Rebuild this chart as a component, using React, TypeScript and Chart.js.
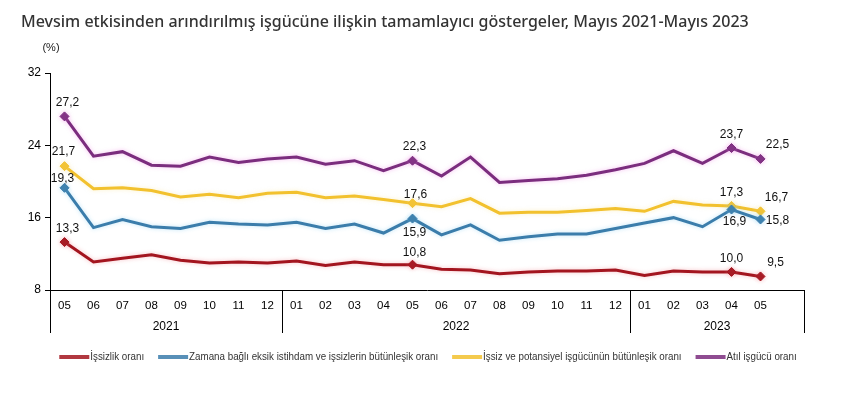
import React, { useEffect, useRef } from "react";
import { Chart, registerables } from "chart.js";

Chart.register(...registerables);

const TITLE =
  "Mevsim etkisinden arındırılmış işgücüne ilişkin tamamlayıcı göstergeler, Mayıs 2021-Mayıs 2023";
const UNIT = "(%)";

const monthLabels = [
  "05", "06", "07", "08", "09", "10", "11", "12",
  "01", "02", "03", "04", "05", "06", "07", "08", "09", "10", "11", "12",
  "01", "02", "03", "04", "05", "",
];
const yearLabels = ["2021", "2022", "2023"];
const yearStartIndex = [0, 8, 20];

const yMin = 8;
const yMax = 32;
const yStep = 8;

const seriesNames = [
  "İşsizlik oranı",
  "Zamana bağlı eksik istihdam ve işsizlerin bütünleşik oranı",
  "İşsiz ve potansiyel işgücünün bütünleşik oranı",
  "Atıl işgücü oranı",
];

const issizlik = [13.3, 11.1, 11.5, 11.9, 11.3, 11.0, 11.1, 11.0, 11.2, 10.7, 11.1, 10.8, 10.8, 10.3, 10.2, 9.8, 10.0, 10.1, 10.1, 10.2, 9.6, 10.1, 10.0, 10.0, 9.5];
const zamana = [19.3, 14.9, 15.8, 15.0, 14.8, 15.5, 15.3, 15.2, 15.5, 14.8, 15.3, 14.3, 15.9, 14.1, 15.2, 13.5, 13.9, 14.2, 14.2, 14.8, 15.4, 16.0, 15.0, 16.9, 15.8];
const potansiyel = [21.7, 19.2, 19.3, 19.0, 18.3, 18.6, 18.2, 18.7, 18.8, 18.2, 18.4, 18.0, 17.6, 17.2, 18.1, 16.5, 16.6, 16.6, 16.8, 17.0, 16.7, 17.8, 17.4, 17.3, 16.7];
const atil = [27.2, 22.8, 23.3, 21.8, 21.7, 22.7, 22.1, 22.5, 22.7, 21.9, 22.3, 21.2, 22.3, 20.6, 22.7, 19.9, 20.1, 20.3, 20.7, 21.3, 22.0, 23.4, 22.0, 23.7, 22.5];

const labeledIndices = [0, 12, 23, 24];

// style
const colors = ["#a3151f", "#3b7dab", "#f2c12e", "#7b2d7e"];
const glows = ["rgba(240,120,130,0.45)", "rgba(120,200,240,0.45)", "rgba(250,230,150,0.5)", "rgba(240,130,230,0.5)"];
// label offsets [dataset][labeledIndex] => [dx, dy]
const labelOffsets: number[][][] = [
  [[3, -13], [2, -12], [0, -13], [15, -14]],
  [[-2, -9], [2, 14], [3, 12], [17, 1]],
  [[-1, -14], [3, -9], [0, -13], [16, -14]],
  [[3, -14], [2, -14], [0, -13], [17, -14]],
];

const BASE_FONT = "'Liberation Sans', Arial, sans-serif";
const NARROW_FONT = "'Liberation Sans Narrow', 'Arial Narrow', 'Liberation Sans', Arial, sans-serif";

const fmt = (v: number) => v.toFixed(1).replace(".", ",");

const overlayPlugin = {
  id: "overlay",
  beforeDatasetDraw(chart: any, args: any) {
    const ctx = chart.ctx;
    ctx.save();
    ctx.shadowColor = glows[args.index];
    ctx.shadowBlur = 4;
  },
  afterDatasetDraw(chart: any) {
    chart.ctx.restore();
  },
  afterDatasetsDraw(chart: any) {
    const ctx = chart.ctx;
    ctx.save();
    ctx.font = `12px ${BASE_FONT}`;
    ctx.fillStyle = "#111";
    ctx.textAlign = "center";
    ctx.textBaseline = "middle";
    chart.data.datasets.forEach((ds: any, di: number) => {
      const meta = chart.getDatasetMeta(di);
      labeledIndices.forEach((idx, k) => {
        const el = meta.data[idx];
        if (!el) return;
        const [dx, dy] = labelOffsets[di][k];
        ctx.fillText(fmt(ds.data[idx]), el.x + dx, el.y + dy);
      });
    });
    ctx.restore();
  },
  afterDraw(chart: any) {
    const ctx = chart.ctx;
    const xs = chart.scales.x;
    const area = chart.chartArea;
    ctx.save();

    // title
    ctx.fillStyle = "#333";
    ctx.font = `500 16px 'Noto Sans', 'Open Sans', sans-serif`;
    ctx.textAlign = "left";
    ctx.textBaseline = "middle";
    ctx.fillText(TITLE, 21, 22, 731);

    // unit
    ctx.fillStyle = "#222";
    ctx.font = `11px ${NARROW_FONT}`;
    ctx.textAlign = "center";
    ctx.fillText(UNIT, 51, 48);

    // year separators & labels
    const n = monthLabels.length;
    const slot = xs.getPixelForTick(1) - xs.getPixelForTick(0);
    const edge = (i: number) => xs.getPixelForTick(0) + (i - 0.5) * slot;
    const bounds = [...yearStartIndex.map((i) => edge(i)), edge(n)];
    ctx.strokeStyle = "#000";
    ctx.lineWidth = 1;
    bounds.forEach((bx) => {
      const px = Math.round(bx) + 0.5;
      ctx.beginPath();
      ctx.moveTo(px, area.bottom);
      ctx.lineTo(px, area.bottom + 43);
      ctx.stroke();
    });
    ctx.fillStyle = "#000";
    ctx.font = `12px ${BASE_FONT}`;
    ctx.textAlign = "center";
    ctx.textBaseline = "middle";
    yearLabels.forEach((lab, i) => {
      ctx.fillText(lab, (bounds[i] + bounds[i + 1]) / 2, area.bottom + 37);
    });

    // legend
    ctx.font = `11px ${NARROW_FONT}`;
    const ref = ctx.measureText(seriesNames[1]).width;
    const squeeze = Math.min(1, 249 / ref);
    const swatch = 30;
    const gapText = 1;
    const gapItem = 14;
    const widths = seriesNames.map((s) => ctx.measureText(s).width * squeeze);
    const total =
      widths.reduce((a, b) => a + b, 0) + seriesNames.length * (swatch + gapText) + (seriesNames.length - 1) * gapItem;
    let x = 428 - total / 2;
    const ly = 357;
    seriesNames.forEach((s, i) => {
      ctx.fillStyle = colors[i];
      ctx.globalAlpha = 0.85;
      ctx.fillRect(x, ly - 2, swatch, 4);
      ctx.globalAlpha = 1;
      x += swatch + gapText;
      ctx.save();
      ctx.translate(x, ly);
      ctx.scale(squeeze, 1);
      ctx.fillStyle = "#333";
      ctx.textAlign = "left";
      ctx.fillText(s, 0, 0);
      ctx.restore();
      x += widths[i] + gapItem;
    });

    ctx.restore();
  },
};

export default function App() {
  const ref = useRef<HTMLCanvasElement | null>(null);
  useEffect(() => {
    if (!ref.current) return;
    const series = [issizlik, zamana, potansiyel, atil];
    const chart = new Chart(ref.current, {
      type: "line",
      data: {
        labels: monthLabels,
        datasets: series.map((d, i) => ({
          label: seriesNames[i],
          data: d,
          borderColor: colors[i],
          backgroundColor: colors[i],
          borderWidth: 3,
          tension: 0,
          pointStyle: "rectRot",
          pointRadius: (c: any) => (labeledIndices.includes(c.dataIndex) ? 4.5 : 0),
          pointBorderWidth: 1,
          pointBackgroundColor: colors[i],
          pointBorderColor: colors[i],
        })),
      },
      options: {
        animation: false,
        responsive: false,
        maintainAspectRatio: false,
        events: [],
        layout: { padding: { left: 0, top: 73, right: 47, bottom: 0 } },
        plugins: {
          legend: { display: false },
          title: { display: false },
          tooltip: { enabled: false },
        },
        scales: {
          x: {
            type: "category",
            offset: true,
            grid: { display: false, drawTicks: false },
            border: { display: true, color: "#000", width: 1 },
            ticks: {
              autoSkip: false,
              maxRotation: 0,
              minRotation: 0,
              padding: 9,
              color: "#000",
              font: { family: BASE_FONT, size: 11.5 },
            },
            afterFit: (s: any) => {
              s.height = 104;
            },
          },
          y: {
            min: yMin,
            max: yMax,
            ticks: {
              stepSize: yStep,
              padding: 4,
              color: "#000",
              font: { family: BASE_FONT, size: 12 },
            },
            grid: { drawOnChartArea: false, drawTicks: true, tickLength: 5, color: "#000" },
            border: { display: true, color: "#000", width: 1 },
            afterFit: (s: any) => {
              s.width = 50;
            },
          },
        },
      } as any,
      plugins: [overlayPlugin],
    });
    return () => chart.destroy();
  }, []);
  return (
    <div style={{ position: "absolute", left: 0, top: 0, width: 851, height: 394, background: "#fff" }}>
      <canvas ref={ref} width={851} height={394} style={{ display: "block", width: 851, height: 394 }} />
    </div>
  );
}
